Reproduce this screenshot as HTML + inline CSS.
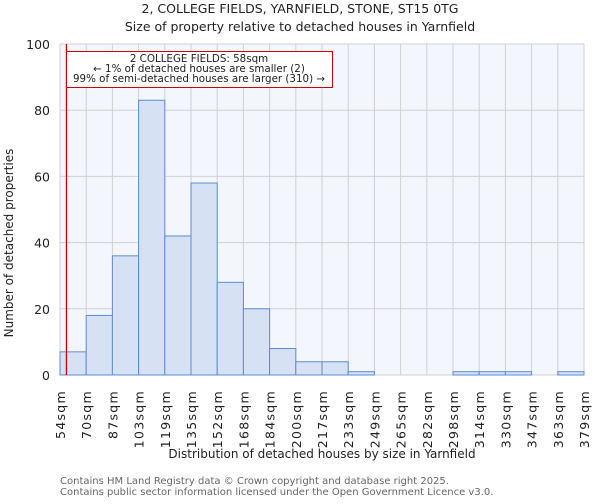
<!DOCTYPE html>
<html><head><meta charset="utf-8"><style>
body{margin:0;background:#fff;font-family:"DejaVu Sans","Liberation Sans",sans-serif;}
svg text{font-family:"DejaVu Sans","Liberation Sans",sans-serif;}
</style></head><body>
<svg id="chart" width="600" height="500" xmlns="http://www.w3.org/2000/svg">
<text x="300" y="13" text-anchor="middle" font-size="12.5" fill="#222">2, COLLEGE FIELDS, YARNFIELD, STONE, ST15 0TG</text>
<text x="300" y="31" text-anchor="middle" font-size="12.5" fill="#222">Size of property relative to detached houses in Yarnfield</text>
<rect x="60" y="44" width="524" height="331" fill="#f3f6fd"/>
<g id="grid"></g>
<g id="bars"></g>
<g id="yticks"></g>
<g id="xticks"></g>
<line id="marker" y1="44" y2="375" stroke="#cc0000" stroke-width="1.3"/>
<g>
<rect x="66.5" y="51.5" width="266" height="36" fill="#fff" stroke="#cc0000" stroke-width="1"/>
<text x="199" y="62" text-anchor="middle" font-size="10.3" fill="#222">2 COLLEGE FIELDS: 58sqm</text>
<text x="199" y="72" text-anchor="middle" font-size="10.3" fill="#222">← 1% of detached houses are smaller (2)</text>
<text x="199" y="82" text-anchor="middle" font-size="10.3" fill="#222">99% of semi-detached houses are larger (310) →</text>
</g>
<text transform="translate(13,243) rotate(-90)" text-anchor="middle" font-size="12" fill="#222">Number of detached properties</text>
<text x="322" y="458" text-anchor="middle" font-size="12" fill="#222">Distribution of detached houses by size in Yarnfield</text>
<text x="60" y="484" font-size="10" fill="#666">Contains HM Land Registry data © Crown copyright and database right 2025.</text>
<text x="60" y="495" font-size="10" fill="#666">Contains public sector information licensed under the Open Government Licence v3.0.</text>
</svg>
<script>
const categories=["54sqm","70sqm","87sqm","103sqm","119sqm","135sqm","152sqm","168sqm","184sqm","200sqm","217sqm","233sqm","249sqm","265sqm","282sqm","298sqm","314sqm","330sqm","347sqm","363sqm","379sqm"];
const counts=[7,18,36,83,42,58,28,20,8,4,4,1,0,0,0,1,1,1,0,1];
const yTicks=[0,20,40,60,80,100];
const markerValue=58;
const binStart=54, binWidth=16.25;
const NS="http://www.w3.org/2000/svg";
const x0=60,x1=584,yTop=44,yBot=375;
const n=counts.length;
const bw=(x1-x0)/n;
function xi(i){return x0+i*bw;}
function xv(v){return x0+(v-binStart)/binWidth*bw;}
function y(v){return yBot-(v/100)*(yBot-yTop);}
function mk(t,a,p){const e=document.createElementNS(NS,t);for(const k in a)e.setAttribute(k,a[k]);p.appendChild(e);return e;}
const grid=document.getElementById('grid');
for(let i=0;i<=n;i++){const l=mk('line',{x1:xi(i),x2:xi(i),y1:yTop,y2:yBot,stroke:'#d0d0d0','stroke-width':1},grid);

}
yTicks.forEach(t=>{const l=mk('line',{x1:x0,x2:x1,y1:y(t),y2:y(t),stroke:'#d0d0d0','stroke-width':1},grid);

});
const bars=document.getElementById('bars');
counts.forEach((c,i)=>{const r=mk('rect',{x:xi(i),y:y(c),width:bw,height:yBot-y(c),fill:'#d6e1f4',stroke:'#5a8dd6','stroke-width':1},bars);

});
const yt=document.getElementById('yticks');
yTicks.forEach(t=>{const e=mk('text',{x:50,y:y(t)+5,'text-anchor':'end','font-size':12.5,fill:'#222'},yt);e.textContent=t;

});
const xt=document.getElementById('xticks');
categories.forEach((c,i)=>{const e=mk('text',{transform:`translate(${xi(i)+5},390) rotate(-90)`,'text-anchor':'end','font-size':12.5,'letter-spacing':1.3,fill:'#222'},xt);e.textContent=c;

});
const m=document.getElementById('marker');m.setAttribute('x1',xv(markerValue));m.setAttribute('x2',xv(markerValue));
</script>
</body></html>
